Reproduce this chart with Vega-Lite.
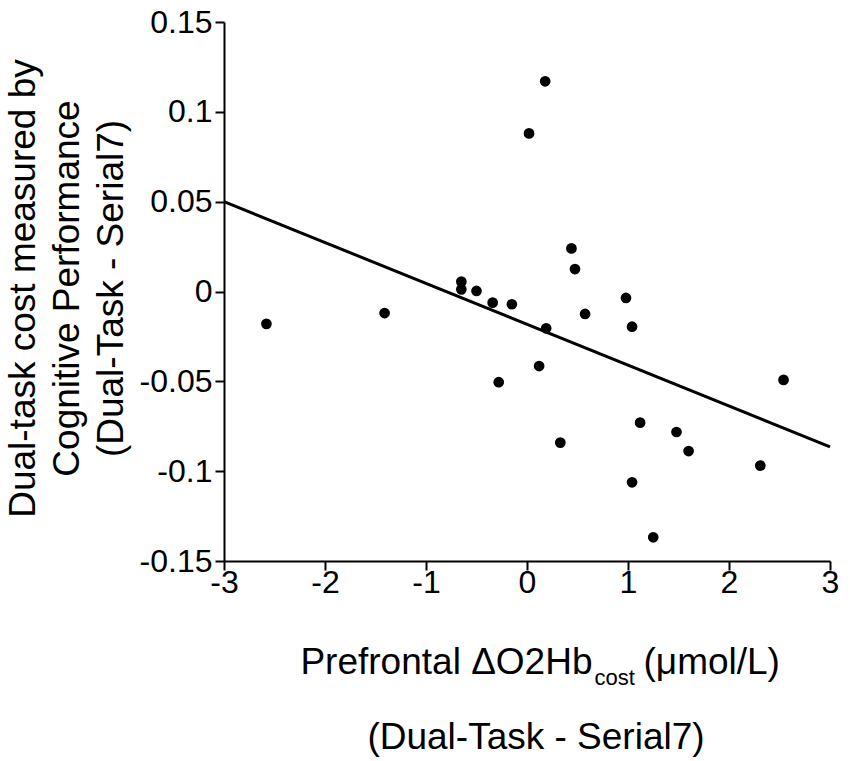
{
  "$schema": "https://vega.github.io/schema/vega-lite/v6.json",
  "description": "Dual-task cost vs prefrontal O2Hb cost",
  "width": 606,
  "height": 539,
  "autosize": "none",
  "padding": {"left": 224, "top": 22, "right": 20, "bottom": 200},
  "background": "white",
  "title": {
    "text": "(Dual-Task - Serial7)",
    "orient": "bottom",
    "anchor": "middle",
    "baseline": "top",
    "offset": 32,
    "dx": 9,
    "fontSize": 37,
    "fontWeight": "normal",
    "color": "black",
    "font": "Liberation Sans"
  },
  "datasets": {
    "points": [
      {"o2hb": -2.58, "cost": -0.018},
      {"o2hb": -1.41, "cost": -0.012},
      {"o2hb": -0.65, "cost": 0.0055},
      {"o2hb": -0.65, "cost": 0.0012},
      {"o2hb": -0.5, "cost": 0.0003},
      {"o2hb": -0.34, "cost": -0.0062},
      {"o2hb": -0.15, "cost": -0.0071},
      {"o2hb": 0.19, "cost": -0.0205},
      {"o2hb": 0.475, "cost": 0.0125},
      {"o2hb": 0.575, "cost": -0.0125},
      {"o2hb": 0.12, "cost": -0.0415},
      {"o2hb": -0.28, "cost": -0.0505},
      {"o2hb": 0.33, "cost": -0.0841},
      {"o2hb": 0.18, "cost": 0.117},
      {"o2hb": 0.02, "cost": 0.088},
      {"o2hb": 0.44, "cost": 0.024},
      {"o2hb": 0.98, "cost": -0.0036},
      {"o2hb": 1.04, "cost": -0.0196},
      {"o2hb": 2.54, "cost": -0.0492},
      {"o2hb": 1.12, "cost": -0.073},
      {"o2hb": 1.48, "cost": -0.0782},
      {"o2hb": 1.6, "cost": -0.0888},
      {"o2hb": 2.31, "cost": -0.0969},
      {"o2hb": 1.04, "cost": -0.1062},
      {"o2hb": 1.25, "cost": -0.1368}
    ],
    "fit": [
      {"o2hb": -3, "cost": 0.05},
      {"o2hb": 3, "cost": -0.0865}
    ]
  },
  "layer": [
    {
      "data": {"name": "points"},
      "mark": {"type": "point", "shape": "circle", "filled": true, "size": 115, "color": "black", "opacity": 1},
      "encoding": {
        "x": {
          "field": "o2hb",
          "type": "quantitative",
          "scale": {"domain": [-3, 3], "nice": false, "zero": false},
          "axis": {
            "values": [-3, -2, -1, 0, 1, 2, 3],
            "labelExpr": "toString(datum.value)",
            "labelPadding": -3,
            "title": "Prefrontal ΔO2Hb",
            "titleX": 368,
            "titleY": 112,
            "titleAlign": "right",
            "titleBaseline": "alphabetic",
            "titleFontSize": 37
          }
        },
        "y": {
          "field": "cost",
          "type": "quantitative",
          "scale": {"domain": [-0.15, 0.15], "nice": false, "zero": false},
          "axis": {
            "values": [-0.15, -0.1, -0.05, 0, 0.05, 0.1, 0.15],
            "labelExpr": "toString(datum.value)",
            "title": ["Dual-task cost measured by", "Cognitive Performance", "(Dual-Task - Serial7)"],
            "titleAngle": -90,
            "titleX": -219,
            "titleY": 266,
            "titleAlign": "center",
            "titleBaseline": "top",
            "titleLineHeight": 44,
            "titleFontSize": 37
          }
        }
      }
    },
    {
      "data": {"name": "fit"},
      "mark": {"type": "line", "color": "black", "strokeWidth": 3},
      "encoding": {
        "x": {
          "field": "o2hb",
          "type": "quantitative",
          "scale": {"domain": [-3, 3], "nice": false, "zero": false},
          "axis": {
            "orient": "bottom",
            "labels": false,
            "ticks": false,
            "domain": false,
            "title": "cost",
            "titleX": 370,
            "titleY": 123,
            "titleAlign": "left",
            "titleBaseline": "alphabetic",
            "titleFontSize": 22
          }
        },
        "y": {
          "field": "cost",
          "type": "quantitative",
          "scale": {"domain": [-0.15, 0.15], "nice": false, "zero": false},
          "axis": {
            "orient": "right",
            "labels": false,
            "ticks": false,
            "domain": false,
            "title": "(μmol/L)",
            "titleAngle": 0,
            "titleX": -187,
            "titleY": 651,
            "titleAlign": "left",
            "titleBaseline": "alphabetic",
            "titleFontSize": 37
          }
        }
      }
    }
  ],
  "resolve": {
    "scale": {"x": "independent", "y": "independent"},
    "axis": {"x": "independent", "y": "independent"}
  },
  "config": {
    "font": "Liberation Sans",
    "view": {"stroke": null},
    "axis": {
      "grid": false,
      "domainColor": "black",
      "domainWidth": 2,
      "tickColor": "black",
      "tickWidth": 2,
      "tickSize": 9,
      "labelColor": "black",
      "labelFontSize": 32,
      "labelPadding": 3,
      "titleColor": "black",
      "titleFontWeight": "normal",
      "labelFlush": false,
      "labelOverlap": false
    }
  }
}
